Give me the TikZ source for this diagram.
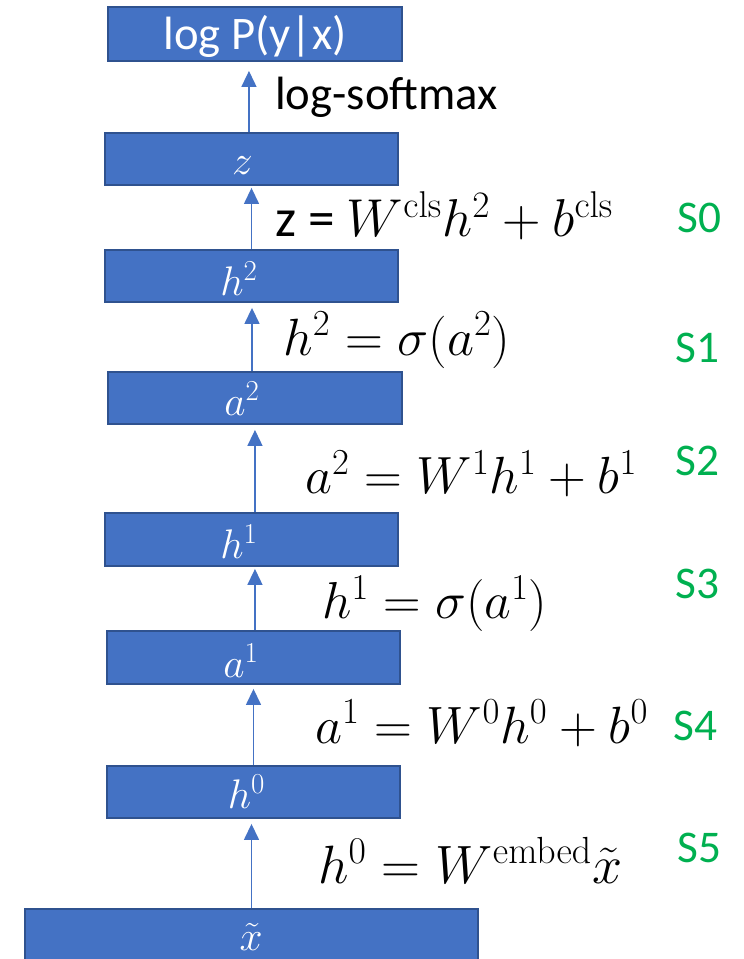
\RequirePackage{fix-cm}
\documentclass[tikz,border=0pt]{standalone}
\usepackage[no-math]{fontspec}
\setmainfont{Carlito}
\usepackage{graphicx}
\usetikzlibrary{arrows.meta}
\definecolor{boxblue}{HTML}{4472C4}
\definecolor{boxedge}{HTML}{2F528F}
\definecolor{sgreen}{HTML}{00B050}
\begin{document}
\begin{tikzpicture}[x=0.75pt,y=-0.75pt,
  layer/.style={draw=boxedge,fill=boxblue,line width=1.4pt,inner sep=0pt,minimum height=39pt},
  boxtext/.style={text=white,inner sep=0pt,anchor=base,font=\fontsize{31}{37}\selectfont},
  eq/.style={inner sep=0pt,anchor=base west,font=\fontsize{30}{36}\selectfont},
  slab/.style={inner sep=0pt,anchor=base west,text=sgreen,font=\fontsize{34}{40}\selectfont},
  arr/.style={draw=boxblue,line width=1.1pt,-{Triangle[length=12pt,width=11.25pt]}}]
\useasboundingbox (0,0) rectangle (743,959);

% layer boxes
\node[layer,minimum width=220.5pt,minimum height=40.5pt] (logp) at (255,34) {};
\node[layer,minimum width=219.75pt] (zbox) at (251.5,159) {};
\node[layer,minimum width=219.75pt] (h2box) at (251.5,276) {};
\node[layer,minimum width=220.5pt] (a2box) at (255,398) {};
\node[layer,minimum width=219.75pt,minimum height=39.75pt] (h1box) at (251.5,539.5) {};
\node[layer,minimum width=219.75pt,minimum height=39.75pt] (a1box) at (253.5,657.5) {};
\node[layer,minimum width=219.75pt] (h0box) at (253.5,792) {};
\node[layer,minimum width=339.75pt,minimum height=41.25pt] (xbox) at (251.5,936.5) {};

% box labels
\node[boxtext,font=\fontsize{35}{42}\selectfont] (logpt) at (255,50) {log P(y|x)};
\node[boxtext] (zt) at (242.5,175) {$z$};
\node[boxtext] (h2t) at (239,295) {$h^{2}$};
\node[boxtext] (a2t) at (242,415) {$a^{2}$};
\node[boxtext] (h1t) at (239,558) {$h^{1}$};
\node[boxtext] (a1t) at (241,677) {$a^{1}$};
\node[boxtext] (h0t) at (246.5,808) {$h^{0}$};
\node[boxtext] (xt) at (251,950) {$\tilde{x}$};

% arrows
\draw[arr,shorten >=6.75pt] ([xshift=-1.9pt]zbox.north) -- ([xshift=-1.9pt]zbox.north |- logp.south);
\draw[arr,shorten >=1.5pt] (h2box.north) -- (h2box.north |- zbox.south);
\draw[arr,shorten >=3.75pt] ([xshift=-2.25pt]a2box.north) -- ([xshift=-2.25pt]a2box.north |- h2box.south);
\draw[arr,shorten >=3.75pt] ([xshift=2.6pt]h1box.north) -- ([xshift=2.6pt]h1box.north |- a2box.south);
\draw[arr,shorten >=1.5pt] ([xshift=1.1pt]a1box.north) -- ([xshift=1.1pt]a1box.north |- h1box.south);
\draw[arr,shorten >=3pt] (h0box.north) -- (h0box.north |- a1box.south);
\draw[arr,shorten >=3.75pt] (xbox.north) -- (xbox.north |- h0box.south);

% operation labels
\node[eq,font=\fontsize{35}{42}\selectfont] (lsm) at (275,110) {log-softmax};
\node[eq] (e0) at (275,237) {\resizebox{253.5pt}{!}{z = $W^{\mathrm{cls}}h^{2}+b^{\mathrm{cls}}$}};
\node[eq] (e1) at (283,355) {\resizebox{170.25pt}{!}{$h^{2}=\sigma(a^{2})$}};
\node[eq] (e2) at (305,493) {\resizebox{249pt}{!}{$a^{2}=W^{1}h^{1}+b^{1}$}};
\node[eq] (e3) at (322,618) {\resizebox{168.75pt}{!}{$h^{1}=\sigma(a^{1})$}};
\node[eq] (e4) at (315,743) {\resizebox{249.75pt}{!}{$a^{1}=W^{0}h^{0}+b^{0}$}};
\node[eq] (e5) at (318,883) {\resizebox{228pt}{!}{$h^{0}=W^{\mathrm{embed}}\tilde{x}$}};

% stage labels
\node[slab] (s0) at (677,233) {S0};
\node[slab] (s1) at (675,362) {S1};
\node[slab] (s2) at (675,475) {S2};
\node[slab] (s3) at (675,598) {S3};
\node[slab] (s4) at (673,740) {S4};
\node[slab] (s5) at (677,862) {S5};
\end{tikzpicture}
\end{document}
